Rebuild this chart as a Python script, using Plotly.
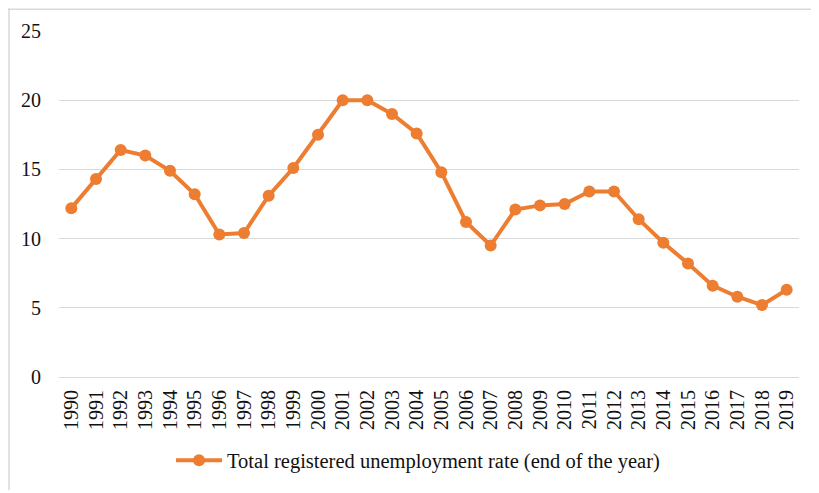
import plotly.graph_objects as go

years = [str(y) for y in range(1990, 2020)]
rates = [12.2, 14.3, 16.4, 16.0, 14.9, 13.2, 10.3, 10.4, 13.1, 15.1,
         17.5, 20.0, 20.0, 19.0, 17.6, 14.8, 11.2, 9.5, 12.1, 12.4,
         12.5, 13.4, 13.4, 11.4, 9.7, 8.2, 6.6, 5.8, 5.2, 6.3]
series_name = "Total registered unemployment rate (end of the year)"

OFF = 8  # default page body margin
W, H = 819 - OFF, 493 - OFF
ml, mr, mt, mb = 59 - OFF, 20, 31 - OFF, 114
pw, ph = W - ml - mr, H - mt - mb

fig = go.Figure()
fig.add_trace(go.Scatter(
    x=years, y=rates, mode="lines+markers", name=series_name,
    line=dict(color="#ED7D31", width=4),
    marker=dict(color="#ED7D31", size=12),
))

def px_x(p):
    return (p - OFF - ml) / pw

def px_y(p):
    return 1 - (p - OFF - mt) / ph

serif = "Liberation Serif"

fig.update_layout(
    width=W, height=H,
    margin=dict(l=ml, r=mr, t=mt, b=mb),
    paper_bgcolor="white", plot_bgcolor="white",
    font=dict(family=serif, size=20, color="#111111"),
    showlegend=True,
    legend=dict(orientation="h", x=px_x(418), xanchor="center",
                y=px_y(463), yanchor="middle",
                font=dict(family=serif, size=20.5),
                itemwidth=46),
    xaxis=dict(type="category", range=[-0.5, 29.5], tickangle=-90,
               showgrid=False, showline=False, ticks="",
               ticklabelstandoff=8, tickfont=dict(family=serif, size=20)),
    yaxis=dict(range=[0, 25], dtick=5, showgrid=True, gridcolor="#d9d9d9",
               gridwidth=1, zeroline=True, zerolinecolor="#d9d9d9",
               zerolinewidth=1, showline=False, ticks="",
               ticklabelstandoff=17, tickfont=dict(family=serif, size=20)),
    shapes=[
        dict(type="line", xref="paper", yref="paper",
             x0=px_x(OFF), x1=px_x(819), y0=px_y(OFF + 1), y1=px_y(OFF + 1),
             line=dict(color="#d9d9d9", width=1.5)),
        dict(type="line", xref="paper", yref="paper",
             x0=px_x(OFF + 1), x1=px_x(OFF + 1), y0=px_y(OFF), y1=px_y(493),
             line=dict(color="#d9d9d9", width=1.5)),
    ],
)

fig.write_html("out.html")
